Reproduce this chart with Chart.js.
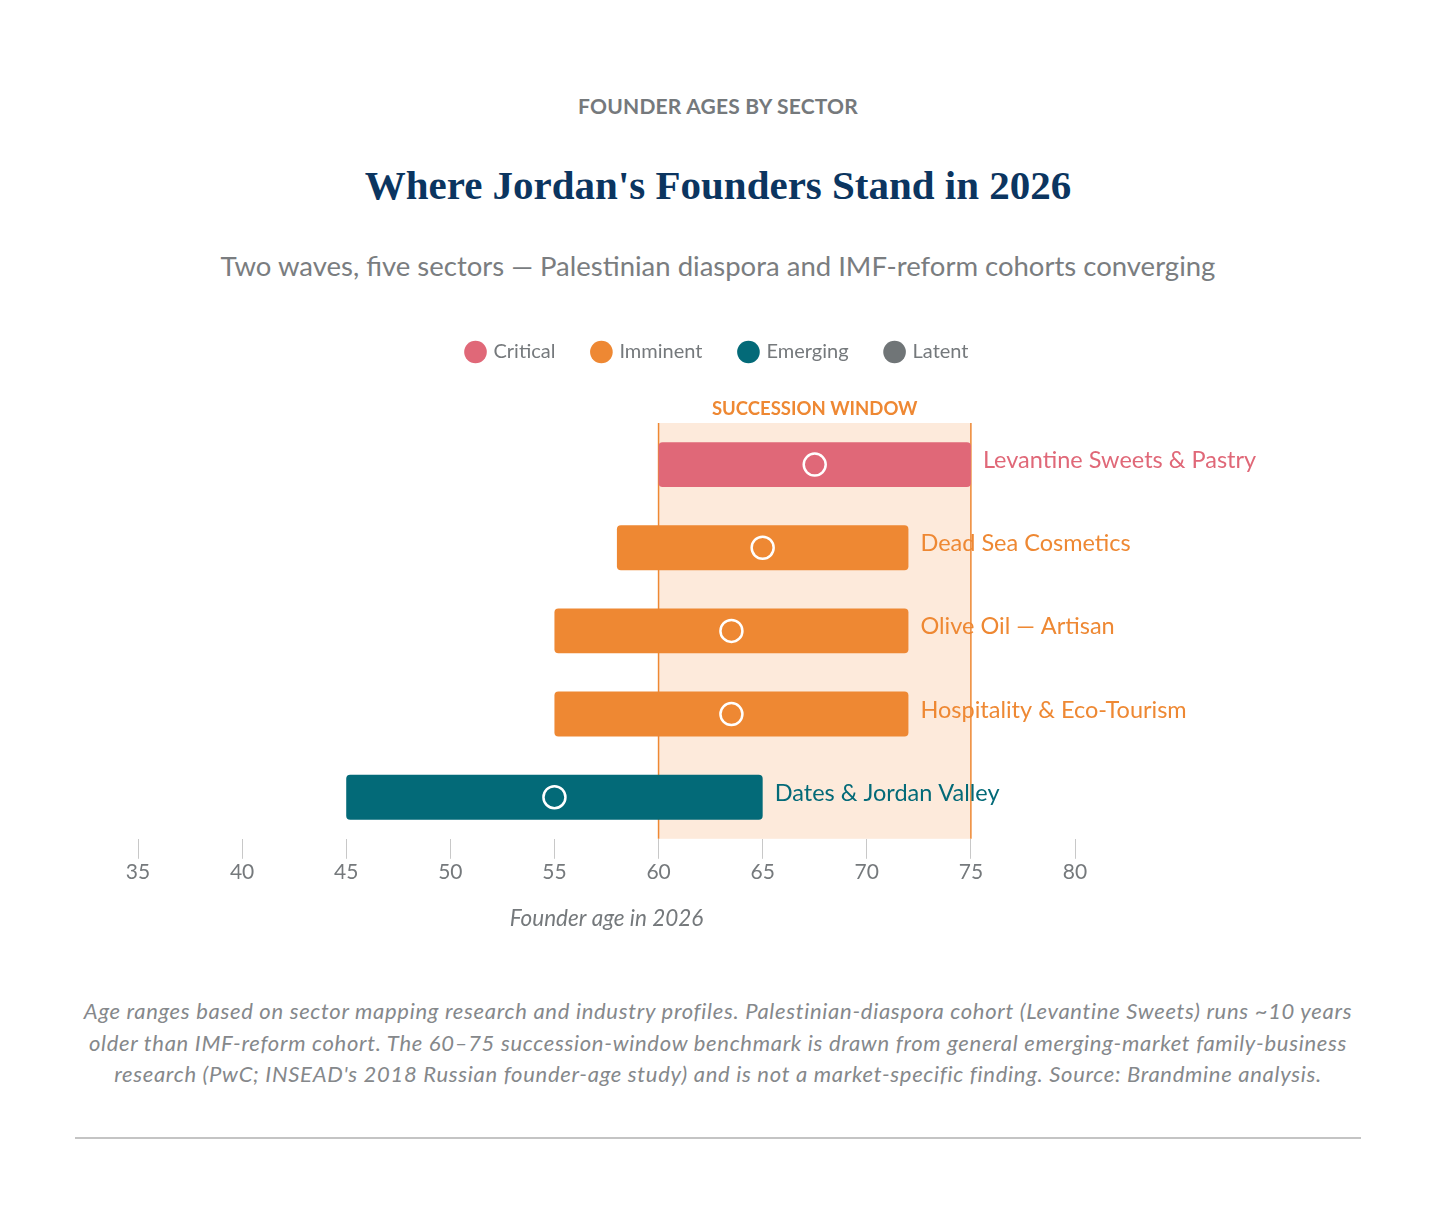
<!DOCTYPE html>
<html>
<head>
<meta charset="utf-8">
<script src="https://cdn.jsdelivr.net/npm/chart.js@4.4.1/dist/chart.umd.min.js"></script>
<style>
  body { margin: 0; background: #fff; font-family: Lato, "Noto Sans", sans-serif; }
  .page { position: relative; width: 1436px; height: 1222px; }
  .kicker, .title, .sub, .note { position: absolute; left: 0; width: 1436px; text-align: center; margin: 0; }
  .kicker { top: 93px; font-size: 21px; font-weight: 700; color: #75797c; letter-spacing: 0.2px; }
  .title { top: 161px; font-family: "Liberation Serif", serif; font-size: 41px; font-weight: 700; color: #0b3560; }
  .sub { top: 249px; font-size: 27.5px; color: #7a7d80; }
  .wrap { position: absolute; left: 75px; top: 325px; width: 1286px; height: 620px; }
  .note { top: 995px; font-size: 22px; font-style: italic; color: #85888b; line-height: 31.5px; letter-spacing: 0.7px; }
  .rule { position: absolute; left: 75px; top: 1137px; width: 1286px; height: 2px; background: #c4c4c4; }
</style>
</head>
<body>
<div class="page">
  <div class="kicker">FOUNDER AGES BY SECTOR</div>
  <div class="title">Where Jordan's Founders Stand in 2026</div>
  <div class="sub">Two waves, five sectors — Palestinian diaspora and IMF-reform cohorts converging</div>
  <div class="wrap"><canvas id="chart"></canvas></div>
  <div class="note">Age ranges based on sector mapping research and industry profiles. Palestinian-diaspora cohort (Levantine Sweets) runs ~10 years<br>older than IMF-reform cohort. The 60–75 succession-window benchmark is drawn from general emerging-market family-business<br>research (PwC; INSEAD's 2018 Russian founder-age study) and is not a market-specific finding. Source: Brandmine analysis.</div>
  <div class="rule"></div>
</div>
<script>
const sectors = ["Levantine Sweets & Pastry", "Dead Sea Cosmetics", "Olive Oil — Artisan", "Hospitality & Eco-Tourism", "Dates & Jordan Valley"];
const ageLow = [60, 58, 55, 55, 45];
const ageHigh = [75, 72, 72, 72, 65];
const ageMedian = [67.5, 65, 63.5, 63.5, 55];
const urgency = ["Critical", "Imminent", "Imminent", "Imminent", "Emerging"];

const levels = ["Critical", "Imminent", "Emerging", "Latent"];
const levelColors = { Critical: "#e06878", Imminent: "#ee8833", Emerging: "#036a78", Latent: "#707577" };

const windowStart = 60;
const windowEnd = 75;
const ageTicks = [35, 40, 45, 50, 55, 60, 65, 70, 75, 80];

const barColors = urgency.map((u) => levelColors[u]);

// shaded succession window behind the bars
const windowBand = {
  id: "windowBand",
  beforeDatasetsDraw(chart) {
    const { ctx, chartArea, scales } = chart;
    const x0 = scales.x.getPixelForValue(windowStart);
    const x1 = scales.x.getPixelForValue(windowEnd);
    ctx.save();
    ctx.fillStyle = "#fdeadb";
    ctx.fillRect(x0, chartArea.top, x1 - x0, chartArea.bottom - chartArea.top);
    ctx.strokeStyle = "#ee8833";
    ctx.lineWidth = 1.5;
    [x0, x1].forEach((x) => {
      ctx.beginPath();
      ctx.moveTo(x, chartArea.top);
      ctx.lineTo(x, chartArea.bottom);
      ctx.stroke();
    });
    ctx.fillStyle = "#ee8833";
    ctx.font = "700 18.5px Lato, sans-serif";
    ctx.textAlign = "center";
    ctx.textBaseline = "middle";
    ctx.fillText("SUCCESSION WINDOW", (x0 + x1) / 2, chartArea.top - 14);
    ctx.restore();
  },
};

// sector names to the right of each bar
const barLabels = {
  id: "barLabels",
  afterDatasetsDraw(chart) {
    const { ctx, scales } = chart;
    ctx.save();
    ctx.font = "23.5px Lato, sans-serif";
    ctx.textAlign = "left";
    ctx.textBaseline = "middle";
    sectors.forEach((s, i) => {
      ctx.fillStyle = barColors[i];
      ctx.fillText(s, scales.x.getPixelForValue(ageHigh[i]) + 12, scales.y.getPixelForValue(i) - 4);
    });
    ctx.restore();
  },
};

// legend: fixed height, centred on the whole canvas
const legendPlace = {
  id: "legendPlace",
  beforeInit(chart) {
    const fit = chart.legend.fit;
    chart.legend.fit = function () {
      fit.bind(chart.legend)();
      this.height = 98;
    };
  },
  afterLayout(chart) {
    const lg = chart.legend;
    lg.left = 0;
    lg.right = chart.width;
    lg.width = chart.width;
    lg.top = -21;
  },
};

new Chart(document.getElementById("chart"), {
  type: "bar",
  data: {
    labels: sectors,
    datasets: [
      {
        label: "Age range",
        data: sectors.map((s, i) => [ageLow[i], ageHigh[i]]),
        backgroundColor: barColors,
        borderRadius: 4,
        borderSkipped: false,
        barPercentage: 0.54,
        categoryPercentage: 1,
        indexAxis: "y",
        order: 2,
      },
      {
        type: "line",
        label: "Median",
        data: ageMedian,
        showLine: false,
        indexAxis: "y",
        pointRadius: 11,
        pointHoverRadius: 11,
        pointBorderColor: "#ffffff",
        pointBorderWidth: 2.5,
        pointBackgroundColor: "rgba(0,0,0,0)",
        order: 1,
      },
    ],
  },
  options: {
    indexAxis: "y",
    responsive: true,
    maintainAspectRatio: false,
    animation: false,
    layout: { padding: { left: 63, right: 286, top: 0, bottom: 9 } },
    plugins: {
      tooltip: { enabled: false },
      legend: {
        position: "top",
        labels: {
          usePointStyle: true,
          boxWidth: 16,
          boxHeight: 16,
          padding: 38,
          color: "#75797c",
          font: { family: "Lato, sans-serif", size: 20 },
          generateLabels: () => levels.map((l) => ({
            text: l,
            fillStyle: levelColors[l],
            strokeStyle: levelColors[l],
            lineWidth: 0,
            pointStyle: "circle",
            fontColor: "#75797c",
          })),
        },
        onClick: null,
      },
    },
    scales: {
      x: {
        type: "linear",
        min: 35,
        max: 80,
        afterBuildTicks: (axis) => { axis.ticks = ageTicks.map((v) => ({ value: v })); },
        grid: { drawOnChartArea: false, drawTicks: true, tickLength: 20, color: "#c8c8c8" },
        border: { display: false },
        ticks: { color: "#75797c", padding: 1, font: { family: "Lato, sans-serif", size: 21 } },
        title: {
          display: true,
          text: "Founder age in 2026",
          color: "#75797c",
          padding: { top: 19 },
          font: { family: "Lato, sans-serif", size: 22.5, style: "italic" },
        },
      },
      y: { display: false },
    },
  },
  plugins: [windowBand, barLabels, legendPlace],
});
</script>
</body>
</html>
